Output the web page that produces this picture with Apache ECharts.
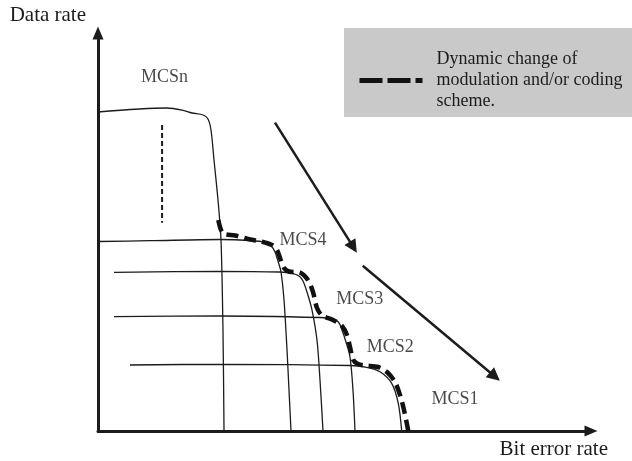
<!DOCTYPE html>
<html>
<head>
<meta charset="utf-8">
<script src="https://cdn.jsdelivr.net/npm/echarts@6/dist/echarts.min.js"></script>
<style>
html,body{margin:0;padding:0;background:#fff;}
#chart{width:632px;height:461px;}
</style>
</head>
<body>
<div id="chart"></div>
<script>
// ---- data (abstract units: x = bit error rate, y = data rate, 0..100) ----
const curveMCSn = [[0,80.15],[14.0,81.16],[17.04,80.65],[19.07,79.9],[21.3,79.4],[22.31,78.39],[22.92,75.63],[23.53,68.09],[24.34,58.04],[24.95,47.99],[25.35,25.38],[25.56,0]];
const curveMCS4 = [[0,47.61],[10.55,47.81],[24.75,48.12],[30.83,47.86],[34.08,47.36],[35.09,46.61],[35.9,44.97],[36.51,42.71],[37.12,39.95],[37.73,32.91],[38.34,20.35],[38.74,10.3],[39.15,0]];
const curveMCS3 = [[3.25,39.87],[24.75,40.13],[36.92,39.95],[39.35,39.62],[40.77,38.94],[41.58,37.69],[42.39,34.92],[43.41,30.4],[44.42,22.86],[45.03,12.81],[45.64,0]];
const curveMCS2 = [[3.25,28.72],[24.75,28.89],[45.03,28.52],[47.34,28.27],[48.76,27.39],[49.49,25.38],[50.3,22.36],[51.12,18.59],[51.72,10.3],[52.13,0]];
const curveMCS1 = [[6.49,16.58],[25.35,16.76],[51.12,16.46],[54.5,16.01],[57.2,14.9],[59.57,11.98],[60.91,6.96],[61.6,0]];
const envelope = [[24.4,53.0],[24.95,50.5],[25.56,49.5],[27.79,49.12],[30.43,48.24],[33.27,47.56],[35.29,46.73],[36.31,45.48],[36.92,43.47],[37.73,40.95],[38.74,40.08],[40.97,39.82],[42.6,37.94],[43.61,34.92],[44.42,30.9],[45.44,29.02],[47.67,27.89],[49.49,26.38],[50.51,24.12],[51.12,21.11],[51.79,17.84],[52.74,16.83],[54.16,16.46],[56.8,16.08],[58.82,14.57],[60.24,12.31],[61.26,9.05],[62.07,5.28],[62.94,0]];
const ellipsisLine = [[13.0,76.9],[13.0,52.3]];
const trendArrows = [[[35.9,77.5],[51.8,46.2]],[[53.7,41.5],[80.5,13.7]]];
const curveLabels = ['MCSn','MCS4','MCS3','MCS2','MCS1'];
const labelPos = [[13.5,88.9],[41.6,48.0],[53.1,33.2],[59.3,21.1],[72.4,8.0]];
const xAxisName = 'Bit error rate';
const yAxisName = 'Data rate';
const envelopeName = 'Dynamic change of modulation and/or coding scheme.';
const legendLines = ['Dynamic change of','modulation and/or coding','scheme.'];

const FONT = '"Liberation Serif", "Times New Roman", serif';
const INK = '#1c1c1c';

const thin = (data) => ({
  type: 'line', data: data, showSymbol: false, symbol: 'none', smooth: 0.3,
  lineStyle: {color: INK, width: 1.3}, silent: true, z: 3
});

const chart = echarts.init(document.getElementById('chart'), null, {renderer: 'canvas'});
chart.setOption({
  animation: false,
  backgroundColor: '#ffffff',
  grid: {left: 98, right: 41, top: 33, bottom: 30, containLabel: false},
  xAxis: {
    type: 'value', min: 0, max: 100,
    name: xAxisName, nameLocation: 'end', nameGap: 17,
    nameTextStyle: {fontFamily: FONT, fontSize: 21, color: INK, align: 'right', verticalAlign: 'top', padding: [8,0,0,0]},
    axisLine: {show: true, onZero: false, symbol: ['none','triangle'], symbolSize: [11,13], lineStyle: {color: INK, width: 3}},
    axisTick: {show: false}, axisLabel: {show: false}, splitLine: {show: false}
  },
  yAxis: {
    type: 'value', min: 0, max: 100,
    name: yAxisName, nameLocation: 'end', nameGap: 7,
    nameTextStyle: {fontFamily: FONT, fontSize: 21, color: INK, align: 'right', verticalAlign: 'bottom', padding: [0,12,0,0]},
    axisLine: {show: true, onZero: false, symbol: ['none','triangle'], symbolSize: [11,13], lineStyle: {color: INK, width: 3}},
    axisTick: {show: false}, axisLabel: {show: false}, splitLine: {show: false}
  },
  legend: {
    data: [envelopeName],
    left: 344, top: 28,
    padding: [21, 10, 5, 13],
    backgroundColor: '#c9c9c9',
    itemWidth: 63, itemHeight: 14,
    selectedMode: false,
    itemStyle: {opacity: 0, borderWidth: 0},
    lineStyle: {type: [23, 5], width: 5, color: '#111'},
    formatter: () => legendLines.join('\n'),
    textStyle: {fontFamily: FONT, fontSize: 18, lineHeight: 21, color: INK, padding: [0,0,0,9]}
  },
  series: [
    thin(curveMCSn), thin(curveMCS4), thin(curveMCS3), thin(curveMCS2), thin(curveMCS1),
    {
      name: envelopeName, type: 'line', data: envelope, showSymbol: false, symbol: 'none',
      smooth: 0.3,
      itemStyle: {color: '#111'},
      lineStyle: {color: '#111', width: 4.5, type: [12, 6]}, z: 4
    },
    {
      type: 'line', data: ellipsisLine, showSymbol: false, symbol: 'none',
      lineStyle: {color: INK, width: 2, type: [5, 3]}, z: 3
    },
    {
      type: 'lines', coordinateSystem: 'cartesian2d',
      data: trendArrows.map(c => ({coords: c})),
      symbol: ['none', 'triangle'], symbolSize: [10, 13],
      lineStyle: {color: INK, width: 2.5, opacity: 1, curveness: 0}, z: 5
    },
    {
      type: 'scatter', symbol: 'circle', symbolSize: 1,
      itemStyle: {color: 'rgba(0,0,0,0)'},
      data: labelPos.map((p, i) => ({value: p, name: curveLabels[i]})),
      label: {show: true, position: 'inside', formatter: p => p.name, fontFamily: FONT, fontSize: 18, color: '#1a1a1a'},
      z: 6
    }
  ]
});
</script>
</body>
</html>
